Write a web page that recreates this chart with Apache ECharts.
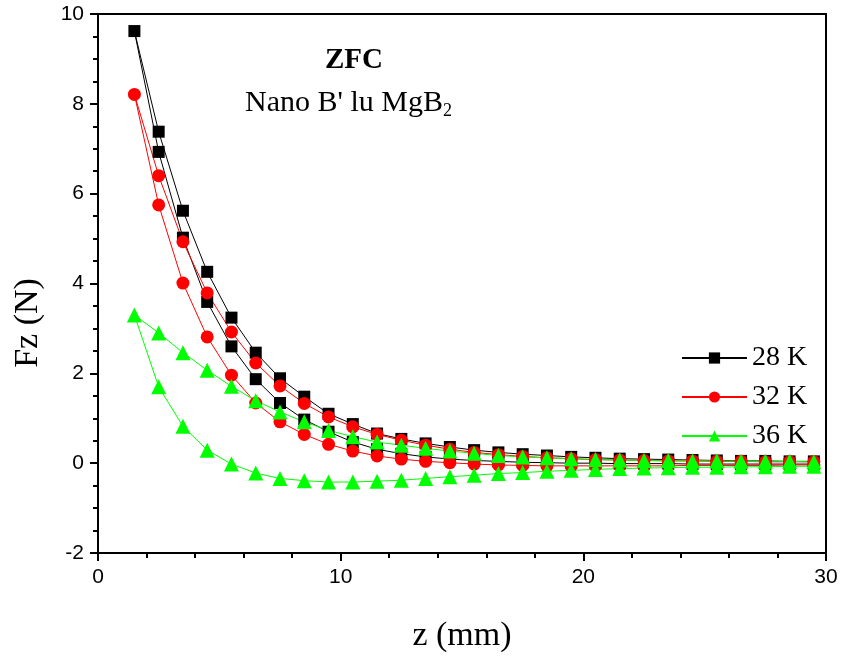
<!DOCTYPE html>
<html>
<head>
    <meta charset="utf-8" />
    <title>ZFC Fz vs z</title>
    <style>
        html, body { margin: 0; padding: 0; background: #fff; }
    </style>
</head>
<body>
    <div id="main" style="width: 843px; height: 662px;"></div>
</body>
<script src="https://cdn.jsdelivr.net/npm/echarts@6/dist/echarts.min.js"></script>
<script>
    // z positions (mm)
    var zPos = [1.5, 2.5, 3.5, 4.5, 5.5, 6.5, 7.5, 8.5, 9.5, 10.5, 11.5, 12.5, 13.5, 14.5, 15.5,
        16.5, 17.5, 18.5, 19.5, 20.5, 21.5, 22.5, 23.5, 24.5, 25.5, 26.5, 27.5, 28.5, 29.5];

    // upper branch, z = 1.5 .. 29.5
    var fz28Up = [9.62, 7.38, 5.62, 4.26, 3.24, 2.46, 1.89, 1.48, 1.10, 0.87, 0.66, 0.54, 0.44, 0.36, 0.29,
        0.24, 0.20, 0.17, 0.14, 0.12, 0.10, 0.09, 0.08, 0.07, 0.06, 0.05, 0.05, 0.04, 0.04];
    // lower branch, z = 2.5 .. 29.5
    var fz28Down = [6.93, 5.02, 3.59, 2.60, 1.87, 1.34, 0.97, 0.70, 0.47, 0.31, 0.21, 0.14, 0.09, 0.06,
        0.04, 0.02, 0.01, 0.00, 0.00, -0.01, -0.01, -0.01, -0.02, -0.02, -0.02, -0.02, -0.02, -0.02];

    var fz32Up = [8.21, 6.40, 4.93, 3.79, 2.92, 2.23, 1.72, 1.33, 1.03, 0.81, 0.64, 0.51, 0.40, 0.31, 0.24,
        0.19, 0.15, 0.12, 0.10, 0.08, 0.07, 0.06, 0.05, 0.05, 0.04, 0.04, 0.03, 0.03, 0.03];
    var fz32Down = [5.75, 4.01, 2.81, 1.96, 1.34, 0.92, 0.64, 0.42, 0.27, 0.16, 0.09, 0.04, 0.01, -0.02,
        -0.04, -0.05, -0.06, -0.06, -0.06, -0.06, -0.06, -0.06, -0.05, -0.05, -0.05, -0.05, -0.04, -0.04];

    var fz36Up = [3.30, 2.90, 2.46, 2.07, 1.71, 1.39, 1.14, 0.92, 0.73, 0.59, 0.47, 0.40, 0.33, 0.27, 0.22,
        0.17, 0.14, 0.12, 0.10, 0.08, 0.07, 0.06, 0.06, 0.05, 0.05, 0.04, 0.04, 0.04, 0.03];
    var fz36Down = [1.70, 0.82, 0.29, -0.02, -0.22, -0.34, -0.39, -0.42, -0.42, -0.40, -0.38, -0.34, -0.30, -0.27,
        -0.23, -0.21, -0.18, -0.16, -0.14, -0.12, -0.11, -0.10, -0.09, -0.09, -0.08, -0.08, -0.07, -0.07];

    var seriesNames = ['28 K', '32 K', '36 K'];
    var seriesColors = ['#000000', '#ff0000', '#00ff00'];
    var seriesSymbols = ['rect', 'circle', 'triangle'];
    var seriesSizes = [12, 13, 15];

    // one loop: lower branch coming in (29.5 -> 2.5), then the top point, then upper branch out
    function loop(up, down) {
        var pts = [];
        for (var i = down.length - 1; i >= 0; i--) {
            pts.push([zPos[i + 1], down[i]]);
        }
        for (var j = 0; j < up.length; j++) {
            pts.push([zPos[j], up[j]]);
        }
        return pts;
    }

    var loops = [loop(fz28Up, fz28Down), loop(fz32Up, fz32Down), loop(fz36Up, fz36Down)];

    var serif = '"Liberation Serif", "Times New Roman", serif';
    var sans = '"Liberation Sans", Arial, sans-serif';

    var chart = echarts.init(document.getElementById('main'));

    var series = [];
    for (var k = 0; k < 3; k++) {
        series.push({
            name: seriesNames[k],
            type: 'line',
            data: loops[k],
            symbol: seriesSymbols[k],
            symbolSize: seriesSizes[k],
            showAllSymbol: true,
            lineStyle: { color: seriesColors[k], width: 1 },
            itemStyle: { color: seriesColors[k] },
            animation: false
        });
    }

    var option = {
        animation: false,
        grid: { left: 98, right: 17, top: 14, bottom: 109 },
        title: [
            {
                text: 'ZFC',
                left: 354, top: 46, textAlign: 'center', padding: 0,
                textStyle: { fontFamily: serif, fontSize: 29, fontWeight: 'bold', color: '#000' }
            },
            {
                text: "Nano B' lu MgB{sub|2}",
                left: 245, top: 86, padding: 0,
                textStyle: {
                    fontFamily: serif, fontSize: 30, fontWeight: 'normal', color: '#000',
                    rich: {
                        sub: { fontFamily: serif, fontSize: 18, padding: [16, 0, 0, 0], color: '#000' }
                    }
                }
            }
        ],
        legend: {
            orient: 'vertical',
            left: 676, top: 339,
            itemWidth: 65, itemHeight: 14, itemGap: 11,
            textStyle: { fontFamily: serif, fontSize: 28, color: '#000' },
            data: seriesNames
        },
        graphic: [
            {
                type: 'text',
                x: 28, y: 323, rotation: Math.PI / 2,
                style: {
                    text: 'Fz (N)', fontFamily: serif, fontSize: 34, fill: '#000',
                    align: 'center', verticalAlign: 'middle'
                }
            }
        ],
        xAxis: [
            {
                type: 'value', min: 0, max: 30, interval: 10,
                name: 'z (mm)', nameLocation: 'middle', nameGap: 66,
                nameTextStyle: { fontFamily: serif, fontSize: 34, color: '#000' },
                axisLine: { onZero: false, lineStyle: { color: '#000', width: 2 } },
                axisTick: { length: 8, lineStyle: { color: '#000', width: 2 } },
                minorTick: { show: true, splitNumber: 5, length: 5, lineStyle: { color: '#000', width: 2 } },
                axisLabel: { fontFamily: sans, fontSize: 21, color: '#000', margin: 14 },
                splitLine: { show: false }
            },
            {
                type: 'value', min: 0, max: 30, interval: 10, position: 'top',
                axisLine: { onZero: false, lineStyle: { color: '#000', width: 2 } },
                axisTick: { show: false },
                minorTick: { show: false },
                axisLabel: { show: false },
                splitLine: { show: false }
            }
        ],
        yAxis: [
            {
                type: 'value', min: -2, max: 10, interval: 2,
                axisLine: { onZero: false, lineStyle: { color: '#000', width: 2 } },
                axisTick: { length: 8, lineStyle: { color: '#000', width: 2 } },
                minorTick: { show: true, splitNumber: 4, length: 5, lineStyle: { color: '#000', width: 2 } },
                axisLabel: { fontFamily: sans, fontSize: 21, color: '#000', margin: 14 },
                splitLine: { show: false }
            },
            {
                type: 'value', min: -2, max: 10, interval: 2, position: 'right',
                axisLine: { show: true, onZero: false, lineStyle: { color: '#000', width: 2 } },
                axisTick: { show: false },
                axisLabel: { show: false },
                splitLine: { show: false }
            }
        ],
        series: series
    };

    chart.setOption(option);
</script>
</html>
